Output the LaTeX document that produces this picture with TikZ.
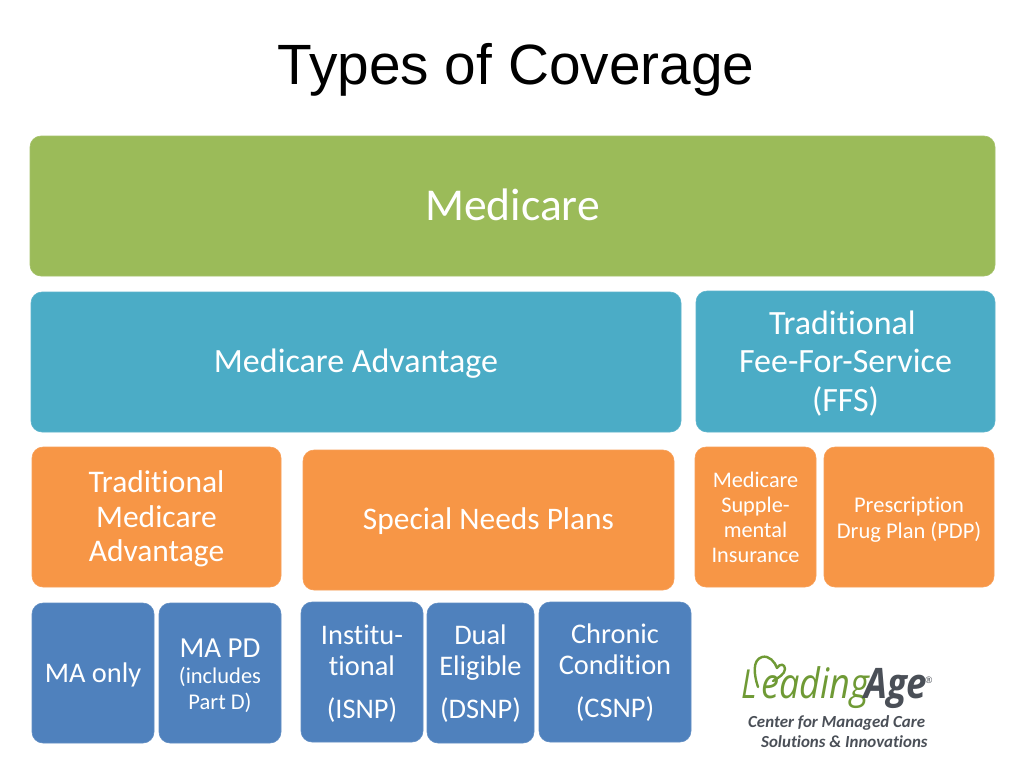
\documentclass[tikz,border=0pt]{standalone}
\usepackage{fontspec}
\setmainfont[Ligatures=NoCommon]{Carlito}
\newfontfamily\titlefont{Liberation Sans}
\newfontfamily\logofont{Open Sans}
\definecolor{cgreen}{HTML}{9BBB59}
\definecolor{cteal}{HTML}{4BACC6}
\definecolor{corange}{HTML}{F79646}
\definecolor{cblue}{HTML}{4F81BD}
\definecolor{lgreen}{HTML}{6F9A35}
\definecolor{lgray}{HTML}{4A4F57}
\tikzset{
  x=1pt,y=-1pt,
  card/.style={draw=#1!90!white,line width=0.6pt,fill=#1,rounded corners=11pt,text=white,align=center,inner sep=0pt,anchor=center},
  logotext/.style={inner sep=0pt,anchor=base west}
}
\newcommand{\fs}[1]{\fontsize{#1}{#1}\selectfont}
\newcommand{\dn}[2]{\vbox{\kern#1pt\kern#1pt\hbox{#2}}}
\begin{document}
\begin{tikzpicture}
\useasboundingbox (0,0) rectangle (1024,768);
\fill[white] (0,0) rectangle (1024,768);
\node[inner sep=0pt,anchor=base] (title) at (516,84) {\titlefont\fs{56.8}Types of Coverage};
\node[card=cgreen,minimum width=965pt,minimum height=140pt] (medicare) at (512.5,206) {\dn{-1}{\fs{45.6}Medicare}};
\node[card=cteal,minimum width=650pt,minimum height=140pt] (ma) at (356,362) {\dn{2}{\fs{34}Medicare Advantage}};
\node[card=cteal,minimum width=299pt,minimum height=141pt] (ffs) at (845.5,361.5) {\dn{5}{\fs{34}\begin{tabular}{@{}c@{}}\hspace*{-6pt}Traditional\\[4pt]Fee-For-Service\\[4pt](FFS)\end{tabular}}};
\node[card=corange,minimum width=249pt,minimum height=140pt] (tma) at (156.5,517) {\dn{4}{\fs{31.5}\begin{tabular}{@{}c@{}}Traditional\\[3pt]Medicare\\[3pt]Advantage\end{tabular}}};
\node[card=corange,minimum width=371pt,minimum height=140pt] (snp) at (488.5,520) {\dn{1}{\fs{31.4}Special Needs Plans}};
\node[card=corange,minimum width=121pt,minimum height=140pt] (sup) at (755.5,517) {\dn{4}{\fs{22.3}\begin{tabular}{@{}c@{}}Medicare\\[2.7pt]Supple-\\[2.7pt]mental\\[2.7pt]Insurance\end{tabular}}};
\node[card=corange,minimum width=170pt,minimum height=140pt] (pdp) at (909,517) {\dn{4}{\fs{22.5}\begin{tabular}{@{}c@{}}Prescription\\[2.5pt]Drug Plan (PDP)\end{tabular}}};
\node[card=cblue,minimum width=122pt,minimum height=140pt] (maonly) at (93,673) {\dn{2}{\fs{28.4}MA only}};
\node[card=cblue,minimum width=122pt,minimum height=140pt] (mapd) at (220,673) {\dn{3}{\begin{tabular}{@{}c@{}}\fs{29}MA PD\\[5pt]\fs{22.5}(includes\\[6pt]\fs{22.5}Part D)\end{tabular}}};
\node[card=cblue,minimum width=122pt,minimum height=140pt] (inst) at (362,672) {\dn{3.5}{\fs{28.4}\begin{tabular}{@{}c@{}}Institu-\\[3pt]tional\\[13.5pt](ISNP)\end{tabular}}};
\node[card=cblue,minimum width=107pt,minimum height=140pt] (dual) at (480.5,673) {\dn{3}{\fs{28.4}\begin{tabular}{@{}c@{}}Dual\\[3pt]Eligible\\[13.5pt](DSNP)\end{tabular}}};
\node[card=cblue,minimum width=152pt,minimum height=140pt] (csnp) at (615,672) {\dn{3}{\fs{28.4}\begin{tabular}{@{}c@{}}Chronic\\[3pt]Condition\\[13.5pt](CSNP)\end{tabular}}};
% logo
\draw[lgreen,line width=2.4pt,line cap=round,line join=round]
  (758,687) .. controls (754,675) and (752,660) .. (762,657)
  .. controls (769,655) and (775,662) .. (777,668)
  .. controls (780,663) and (785,664) .. (785,669)
  .. controls (785,674) and (778,678) .. (773,681);
\node[logotext,text=lgreen] (logoa) at (741,698) {\logofont\itshape\fs{40}\addfontfeature{FakeStretch=0.8}L};
\node[logotext,text=lgreen] (logob) at (761,698) {\logofont\itshape\fs{42}\addfontfeature{FakeStretch=0.86}eading};
\node[logotext,text=lgray] (logoc) at (864,698) {\logofont\itshape\bfseries\fs{42}\addfontfeature{FakeStretch=0.87}Age};
\node[logotext,text=lgray] (logod) at (925,683) {\logofont\fs{9}®};
\node[logotext,text=lgray] (logoe) at (748,727) {\bfseries\itshape\fs{16.9}Center for Managed Care};
\node[logotext,text=lgray] (logof) at (761,747) {\bfseries\itshape\fs{16.9}Solutions \& Innovations};
\end{tikzpicture}
\end{document}
